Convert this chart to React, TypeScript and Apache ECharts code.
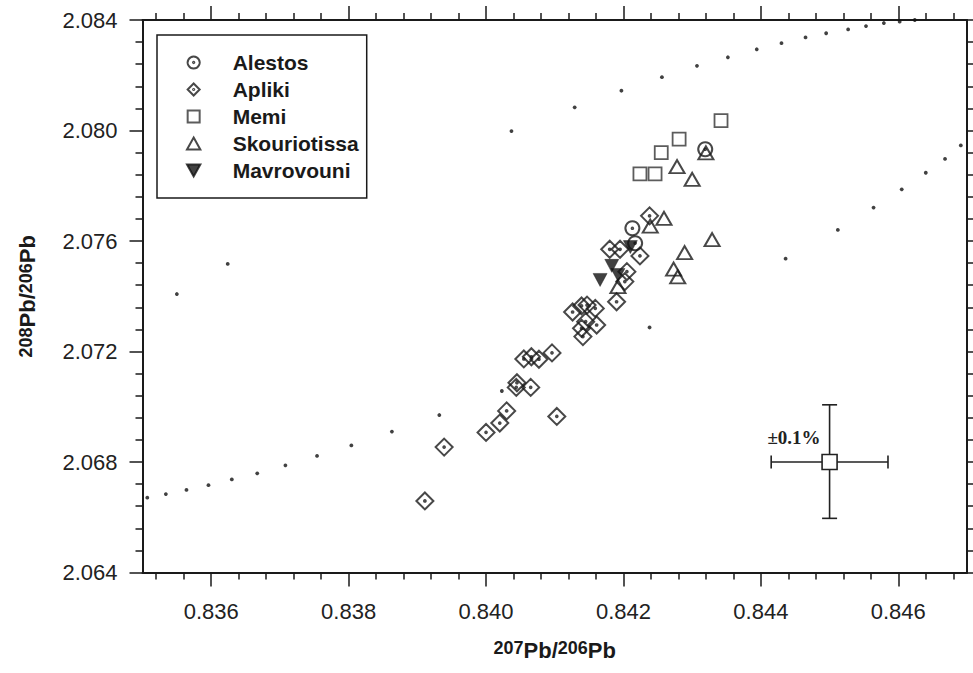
import React, { useEffect, useRef } from "react";
import * as echarts from "echarts";

// ---- axis ticks ----
const xRange = [0.835, 0.847];
const yRange = [2.064, 2.084];
const xMajorTicks = [0.836, 0.838, 0.84, 0.842, 0.844, 0.846];
const xMinorTicks = [
  0.8352, 0.8356, 0.8364, 0.8368, 0.8372, 0.8376, 0.8384, 0.8388, 0.8392, 0.8396,
  0.8404, 0.8408, 0.8412, 0.8416, 0.8424, 0.8428, 0.8432, 0.8436, 0.8444, 0.8448,
  0.8452, 0.8456, 0.8464, 0.8468,
];
const yMajorTicks = [2.064, 2.068, 2.072, 2.076, 2.08, 2.084];
const yMinorTicks = [
  2.0648, 2.0656, 2.0664, 2.0672, 2.0688, 2.0696, 2.0704, 2.0712, 2.0728, 2.0736,
  2.0744, 2.0752, 2.0768, 2.0776, 2.0784, 2.0792, 2.0808, 2.0816, 2.0824, 2.0832,
];

// ---- data: [207Pb/206Pb, 208Pb/206Pb] ----
const alestos = [
  [0.84213, 2.07646],
  [0.84217, 2.07592],
  [0.84319, 2.07932],
];
const apliki = [
  [0.83911, 2.06659],
  [0.83939, 2.06854],
  [0.84, 2.06907],
  [0.8402, 2.06941],
  [0.8403, 2.06985],
  [0.84045, 2.07087],
  [0.84044, 2.0707],
  [0.84065, 2.0707],
  [0.84055, 2.07173],
  [0.84066, 2.07181],
  [0.84077, 2.07172],
  [0.84096, 2.07195],
  [0.84103, 2.06965],
  [0.84126, 2.07343],
  [0.84139, 2.07365],
  [0.84147, 2.07368],
  [0.84159, 2.07356],
  [0.84145, 2.07308],
  [0.84161, 2.07296],
  [0.84139, 2.07284],
  [0.84141, 2.07254],
  [0.8419, 2.0738],
  [0.84202, 2.07453],
  [0.84205, 2.07489],
  [0.84224, 2.07546],
  [0.8418, 2.0757],
  [0.84195, 2.0757],
  [0.84238, 2.07691],
];
const memi = [
  [0.84342, 2.08036],
  [0.84281, 2.07969],
  [0.84255, 2.0792],
  [0.84224, 2.07843],
  [0.84246, 2.07843],
];
const skouriotissa = [
  [0.8432, 2.07919],
  [0.84278, 2.07869],
  [0.843, 2.07823],
  [0.84259, 2.07682],
  [0.84239, 2.07654],
  [0.84329, 2.07605],
  [0.84289, 2.07558],
  [0.84273, 2.07498],
  [0.84279, 2.0747],
  [0.84192, 2.07435],
];
const mavrovouni = [
  [0.8421, 2.07578],
  [0.84183, 2.0751],
  [0.84192, 2.07477],
  [0.84166, 2.07459],
];
const curveLower = [
  [0.83507, 2.06671], [0.83534, 2.06684], [0.83564, 2.06699], [0.83596, 2.06716],
  [0.8363, 2.06737], [0.83667, 2.06759], [0.83708, 2.06788], [0.83754, 2.06822],
  [0.83804, 2.0686], [0.83863, 2.0691], [0.83932, 2.0697], [0.84023, 2.07057],
  [0.84238, 2.07287], [0.84436, 2.07536], [0.84512, 2.0764], [0.84564, 2.07721],
  [0.84605, 2.07787], [0.8464, 2.07847], [0.84668, 2.07897], [0.84691, 2.07946],
];
const curveUpper = [
  [0.8355, 2.07408], [0.83624, 2.07517], [0.84037, 2.07998], [0.84129, 2.08084],
  [0.84197, 2.08144], [0.84256, 2.08193], [0.84307, 2.08234], [0.84352, 2.08265],
  [0.84394, 2.08294], [0.8443, 2.08316], [0.84465, 2.08337], [0.84495, 2.08352],
  [0.84527, 2.08366], [0.84553, 2.08378], [0.84579, 2.08389], [0.84602, 2.08394],
  [0.84624, 2.084],
];
const errCenter = [0.845, 2.068];
const errX = [0.84415, 0.84585];
const errY = [2.06596, 2.07007];
const errLabel = "±0.1%";

const seriesNames = ["Alestos", "Apliki", "Memi", "Skouriotissa", "Mavrovouni"];

// ---- symbols ----
const SYM_CIRCLE_DOT = "path://M10,1A9,9,0,1,1,9.99,1Z M10,9A1,1,0,1,1,9.99,9Z";
const SYM_DIAMOND_DOT = "path://M10,0L20,10L10,20L0,10Z M10,9A1,1,0,1,1,9.99,9Z";
const SYM_SQUARE = "path://M0,0L20,0L20,20L0,20Z";
const SYM_TRIANGLE = "path://M10,0L20,18L0,18Z";
const SYM_INV_TRIANGLE = "path://M0,0L20,0L10,18Z";

const INK = "#1a1a1a";
const FONT = "Liberation Sans";

function titleStyle() {
  return {
    fontFamily: FONT,
    fontWeight: "bold",
    color: INK,
    rich: {
      n: { fontSize: 18, fontWeight: "bold", fontFamily: FONT, color: INK, lineHeight: 18, verticalAlign: "top" },
      p: { fontSize: 22, fontWeight: "bold", fontFamily: FONT, color: INK, lineHeight: 22, padding: [12, 0, 0, 0], verticalAlign: "bottom" },
    },
  };
}

function makeXAxis(position: string, ticks: number[], len: number, line: boolean, withLabel: boolean) {
  const ax: any = {
    type: "value",
    min: xRange[0],
    max: xRange[1],
    position,
    splitLine: { show: false },
    axisLine: { show: line, onZero: false, lineStyle: { color: INK, width: 2 } },
    axisTick: { show: true, customValues: ticks, length: len, inside: false, lineStyle: { color: INK, width: 1.5 } },
    axisLabel: { show: false },
  };
  if (withLabel) {
    ax.axisLabel = {
      show: true,
      customValues: xMajorTicks,
      formatter: (v: number) => v.toFixed(3),
      margin: 28,
      fontSize: 22,
      fontFamily: FONT,
      color: "#222",
    };
    ax.name = "{n|207}{p|Pb/}{n|206}{p|Pb}";
    ax.nameLocation = "middle";
    ax.nameGap = 64;
    ax.nameTextStyle = titleStyle();
  }
  return ax;
}

function makeYAxis(position: string, ticks: number[], len: number, line: boolean, withLabel: boolean) {
  const ax: any = {
    type: "value",
    min: yRange[0],
    max: yRange[1],
    position,
    splitLine: { show: false },
    axisLine: { show: line, onZero: false, lineStyle: { color: INK, width: 2 } },
    axisTick: { show: true, customValues: ticks, length: len, inside: false, lineStyle: { color: INK, width: 1.5 } },
    axisLabel: { show: false },
  };
  if (withLabel) {
    ax.axisLabel = {
      show: true,
      customValues: yMajorTicks,
      formatter: (v: number) => v.toFixed(3),
      margin: 25,
      fontSize: 22,
      fontFamily: FONT,
      color: "#222",
    };
    ax.name = "{n|208}{p|Pb/}{n|206}{p|Pb}";
    ax.nameLocation = "middle";
    ax.nameRotate = 90;
    ax.nameGap = 104;
    ax.nameTextStyle = titleStyle();
  }
  return ax;
}

const hollow = { color: "rgba(0,0,0,0)", borderColor: "#1a1a1a", borderWidth: 2 };

export default function App() {
  const ref = useRef<HTMLDivElement>(null);
  useEffect(() => {
    if (!ref.current) return;
    const chart = echarts.init(ref.current, null, { renderer: "svg" });
    const option: any = {
      animation: false,
      backgroundColor: "#fff",
      grid: { left: 142.5, right: 6, top: 20, bottom: 100.5, outerBoundsMode: "none" },
      xAxis: [
        makeXAxis("bottom", xMajorTicks, 14, true, true),
        makeXAxis("bottom", xMinorTicks, 7, false, false),
        makeXAxis("top", xMajorTicks, 14, true, false),
        makeXAxis("top", xMinorTicks, 7, false, false),
      ],
      yAxis: [
        makeYAxis("left", yMajorTicks, 13, true, true),
        makeYAxis("left", yMinorTicks, 7, false, false),
        makeYAxis("right", yMajorTicks, 13, true, false),
        makeYAxis("right", yMinorTicks, 7, false, false),
      ],
      legend: {
        data: seriesNames,
        orient: "vertical",
        left: 157,
        top: 35,
        padding: [17, 8, 17, 29],
        itemWidth: 14,
        itemHeight: 12,
        itemGap: 6,
        borderColor: INK,
        borderWidth: 1.5,
        backgroundColor: "#fff",
        selectedMode: false,
        textStyle: {
          fontFamily: FONT,
          fontWeight: "bold",
          fontSize: 21,
          lineHeight: 21,
          color: INK,
          padding: [0, 0, 0, 27],
        },
      },
      series: [
        {
          name: "curveLower",
          type: "scatter",
          data: curveLower,
          symbol: "circle",
          symbolSize: 3.8,
          itemStyle: { color: "#111" },
          silent: true,
        },
        {
          name: "curveUpper",
          type: "scatter",
          data: curveUpper,
          symbol: "circle",
          symbolSize: 3.8,
          itemStyle: { color: "#111" },
          silent: true,
        },
        {
          name: "Apliki",
          type: "scatter",
          data: apliki,
          symbol: SYM_DIAMOND_DOT,
          symbolSize: 17,
          itemStyle: hollow,
        },
        {
          name: "Alestos",
          type: "scatter",
          data: alestos,
          symbol: SYM_CIRCLE_DOT,
          symbolSize: 14,
          itemStyle: hollow,
        },
        {
          name: "Memi",
          type: "scatter",
          data: memi,
          symbol: SYM_SQUARE,
          symbolSize: 13,
          itemStyle: { ...hollow, borderColor: "#333", borderWidth: 1.8 },
        },
        {
          name: "Skouriotissa",
          type: "scatter",
          data: skouriotissa,
          symbol: SYM_TRIANGLE,
          symbolSize: [15, 13],
          itemStyle: hollow,
        },
        {
          name: "Mavrovouni",
          type: "scatter",
          data: mavrovouni,
          symbol: SYM_INV_TRIANGLE,
          symbolSize: [14, 13],
          itemStyle: { color: "#111", borderColor: "#111", borderWidth: 0.5 },
        },
        {
          name: "error",
          type: "custom",
          silent: true,
          data: [[errCenter[0], errCenter[1], errX[0], errX[1], errY[0], errY[1]]],
          renderItem: (_params: any, api: any) => {
            const cx = api.value(0);
            const cy = api.value(1);
            const c = api.coord([cx, cy]);
            const l = api.coord([api.value(2), cy]);
            const r = api.coord([api.value(3), cy]);
            const b = api.coord([cx, api.value(4)]);
            const t = api.coord([cx, api.value(5)]);
            const st = { stroke: "#222", lineWidth: 1.6 };
            return {
              type: "group",
              children: [
                { type: "line", shape: { x1: l[0], y1: c[1], x2: r[0], y2: c[1] }, style: st },
                { type: "line", shape: { x1: c[0], y1: t[1], x2: c[0], y2: b[1] }, style: st },
                { type: "line", shape: { x1: l[0], y1: c[1] - 6.5, x2: l[0], y2: c[1] + 6.5 }, style: st },
                { type: "line", shape: { x1: r[0], y1: c[1] - 6.5, x2: r[0], y2: c[1] + 6.5 }, style: st },
                { type: "line", shape: { x1: c[0] - 7.5, y1: t[1], x2: c[0] + 7.5, y2: t[1] }, style: st },
                { type: "line", shape: { x1: c[0] - 7.5, y1: b[1], x2: c[0] + 7.5, y2: b[1] }, style: st },
                {
                  type: "rect",
                  shape: { x: c[0] - 7.5, y: c[1] - 7.5, width: 15, height: 15 },
                  style: { fill: "#fff", stroke: "#222", lineWidth: 1.6 },
                },
                {
                  type: "text",
                  x: c[0] - 9,
                  y: c[1] - 25,
                  style: {
                    text: errLabel,
                    align: "right",
                    verticalAlign: "middle",
                    font: 'bold 19px "Liberation Serif"',
                    fill: "#222",
                  },
                },
              ],
            };
          },
        },
      ],
    };
    chart.setOption(option);
    return () => chart.dispose();
  }, []);
  return (
    <div
      ref={ref}
      style={{ position: "fixed", left: 0, top: 0, width: 973, height: 673, background: "#fff" }}
    />
  );
}
